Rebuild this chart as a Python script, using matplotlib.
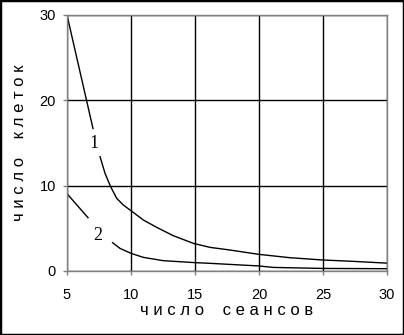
import numpy as np
import matplotlib.pyplot as plt
from matplotlib.patches import Rectangle

# curve 1 (nan = gap where the label sits)
x1 = [5, 7.03, np.nan, 7.58, 7.97, 8.41, 8.88, 9.4, 10.0, 10.96, 12.0, 13.3, 14.87,
      16.17, 17.73, 20.0, 22.4, 24.97, 27.37, 30]
y1 = [30, 16.7, np.nan, 13.4, 11.45, 9.88, 8.52, 7.73, 7.07, 5.98, 5.12, 4.14, 3.24,
      2.77, 2.46, 1.95, 1.56, 1.29, 1.13, 0.92]

# curve 2
x2 = [5, 6.64, np.nan, 8.56, 9.14, 10.0, 10.96, 12.52, 15.0, 16.17, 18.0, 20.0, 21.1, 25.0, 30]
y2 = [9.06, 6.25, np.nan, 3.32, 2.65, 2.07, 1.6, 1.21, 0.98, 0.9, 0.75, 0.59, 0.42, 0.3, 0.27]

xticks = [5, 10, 15, 20, 25, 30]
yticks = [0, 10, 20, 30]

plt.rcParams['font.family'] = ['Liberation Sans', 'DejaVu Sans']

fig = plt.figure(figsize=(4.04, 3.35), dpi=100)
ax = fig.add_axes([67 / 404, 1 - 271 / 335, 320 / 404, 256 / 335])

ax.plot(x1, y1, color='black', lw=1)
ax.plot(x2, y2, color='black', lw=1)

ax.text(7.08, 14.9, '1', family='Liberation Serif', fontsize=13, ha='center', va='center')
ax.text(7.42, 4.18, '2', family='Liberation Serif', fontsize=13, ha='center', va='center')

ax.set_xlim(5, 30)
ax.set_ylim(0, 30)
ax.set_xticks(xticks)
ax.set_yticks(yticks)
ax.grid(True, color='black', lw=1)
ax.set_axisbelow(True)
for s in ax.spines.values():
    s.set_color('#808080')
    s.set_linewidth(1)
ax.tick_params(direction='out', length=3, width=1, color='#808080', labelsize=10.5, pad=5)
ax.tick_params(axis='x', pad=9)

ax.set_xlabel('ч и с л о    с е а н с о в', fontsize=12, labelpad=1)
ax.set_ylabel('ч и с л о    к л е т о к', fontsize=12, labelpad=9)

fig.patches.append(Rectangle((0, 0), 1, 1, transform=fig.transFigure, fill=False,
                             edgecolor='black', lw=2.5))

fig.savefig('out.png', dpi=100)
